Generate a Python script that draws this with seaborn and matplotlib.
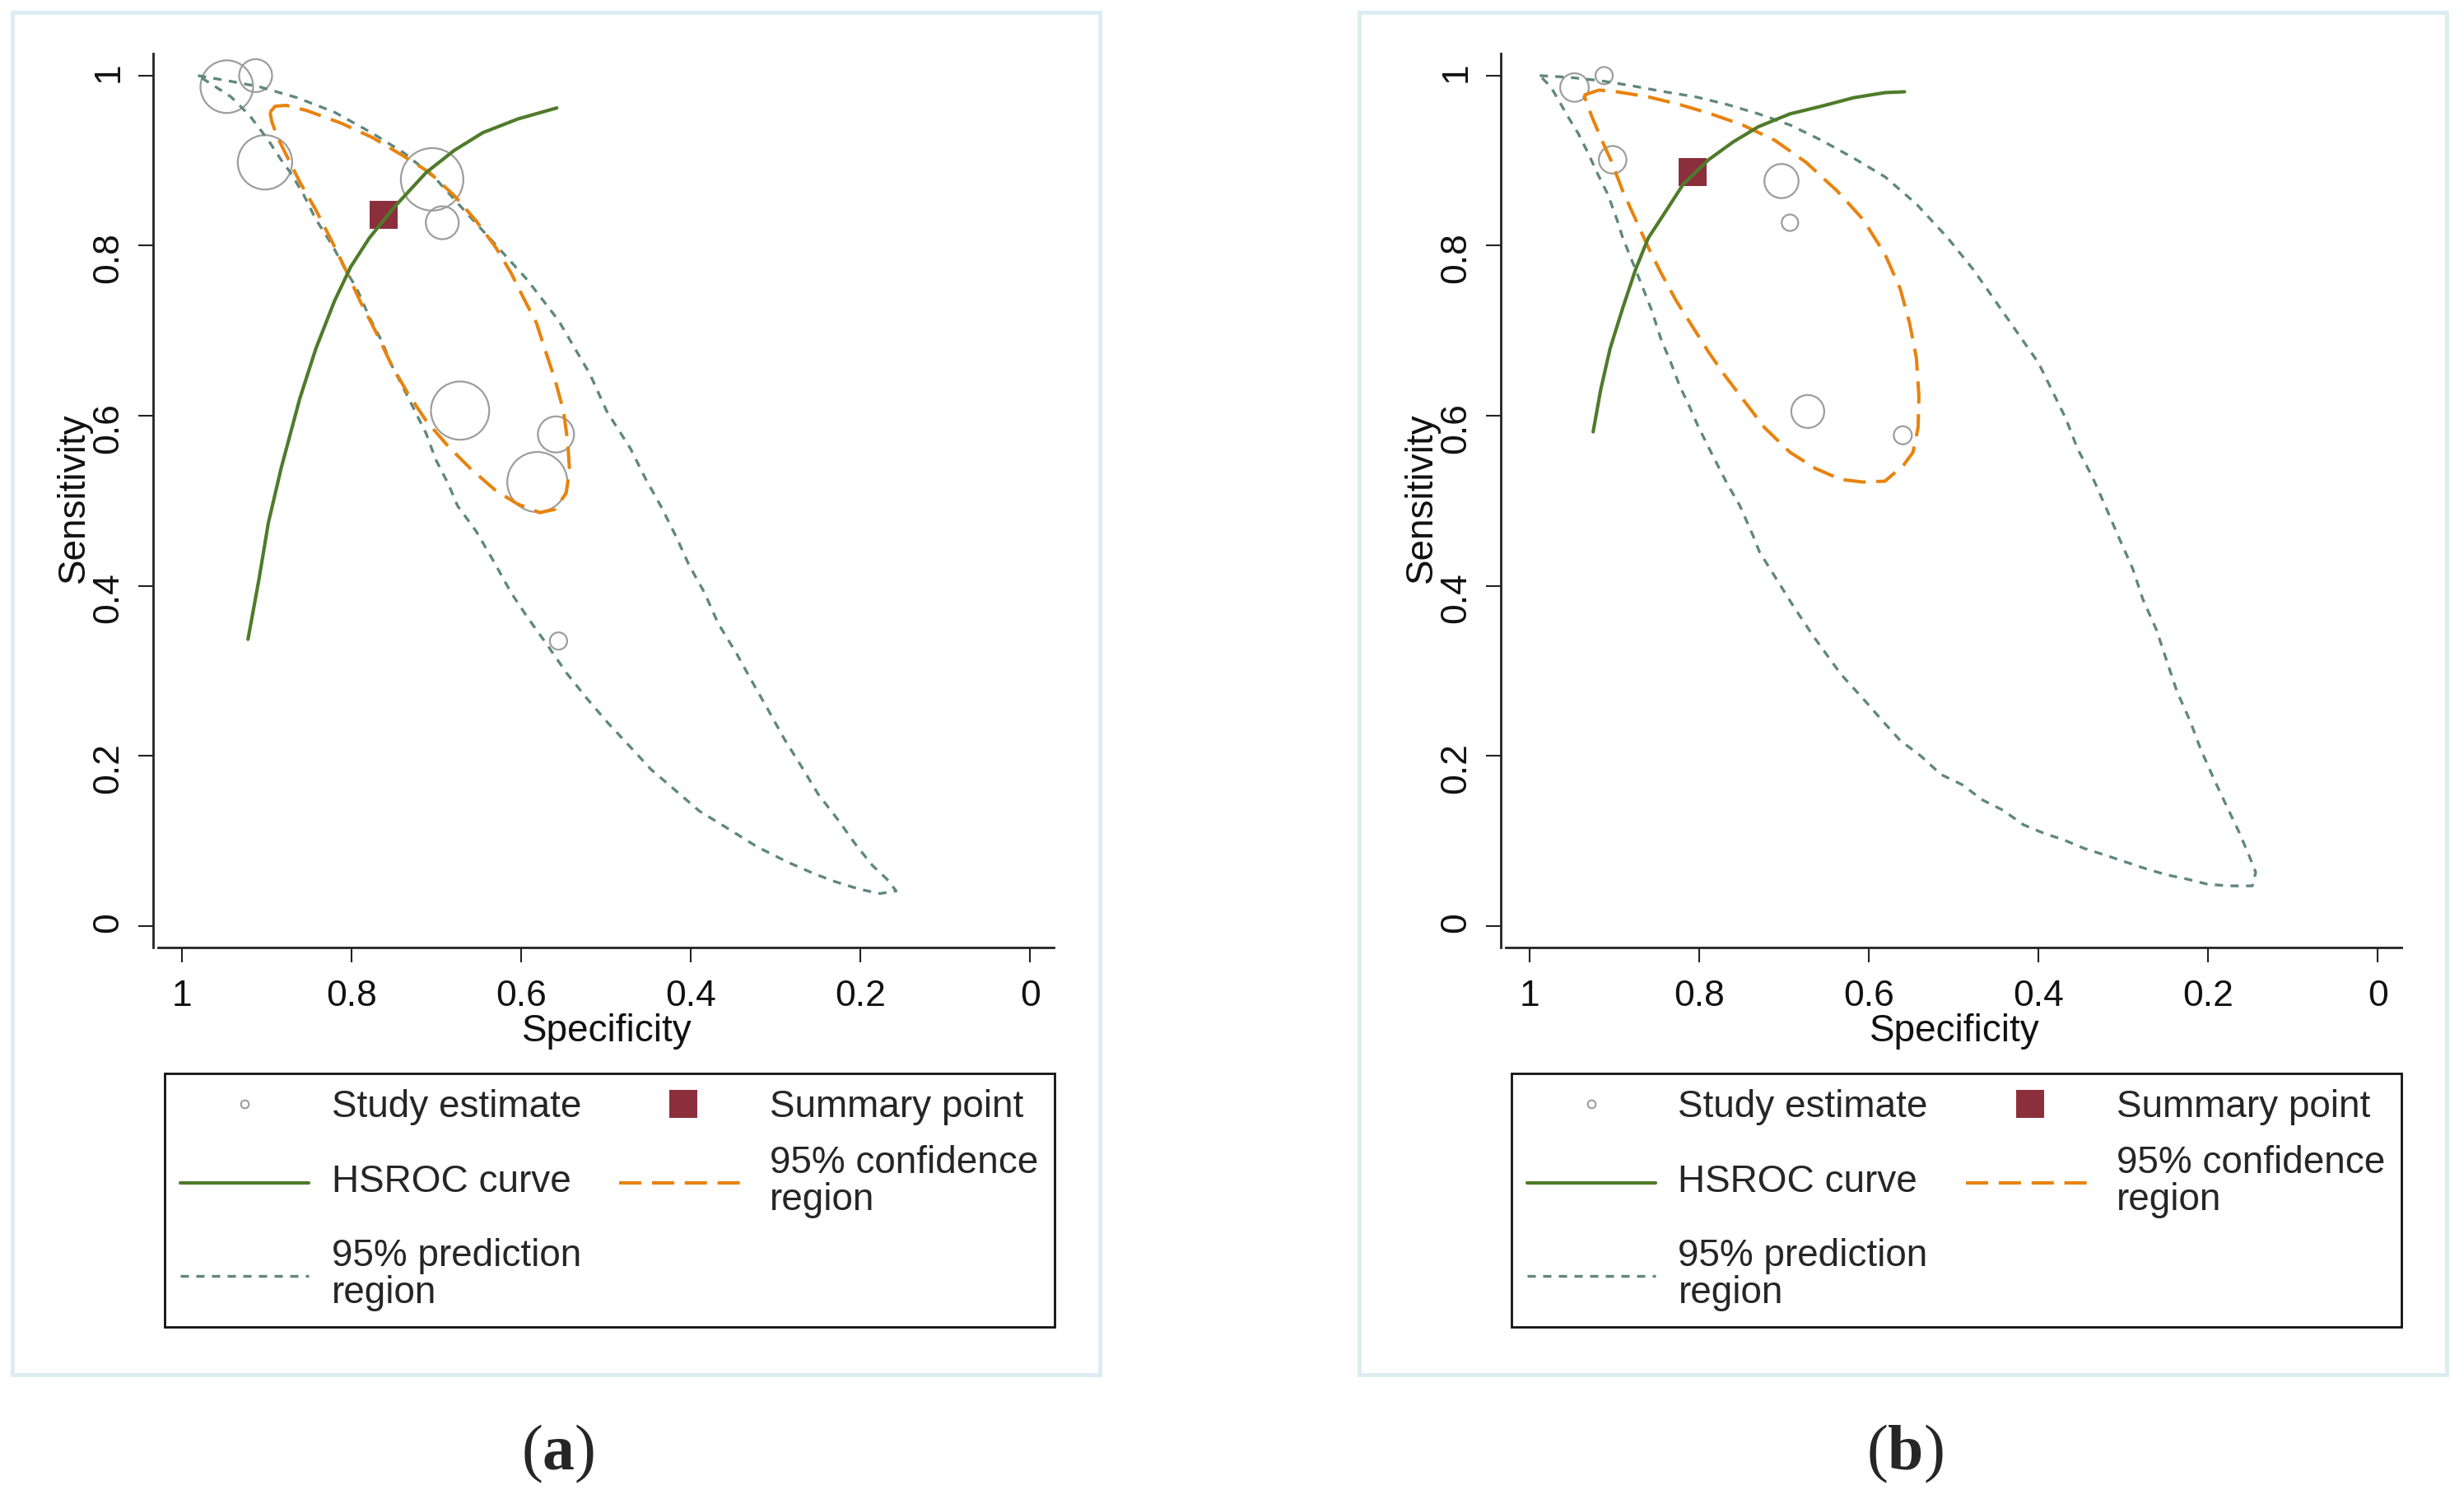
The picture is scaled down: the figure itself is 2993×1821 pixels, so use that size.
import numpy as np
import pandas as pd
import seaborn as sns
import matplotlib.pyplot as plt
from matplotlib.lines import Line2D
from matplotlib.patches import Rectangle

# ---------------- panel (a) ----------------
study_spec_a = [0.947, 0.913, 0.902, 0.705, 0.693, 0.672, 0.559, 0.581, 0.556]
study_sens_a = [0.987, 1.000, 0.898, 0.878, 0.827, 0.606, 0.578, 0.522, 0.335]
study_weight_a = [10.2, 4.0, 10.9, 14.4, 4.0, 12.5, 4.8, 13.3, 1.1]
summary_a = [0.762, 0.836]

hsroc_spec_a = [0.922, 0.909, 0.898, 0.883, 0.861, 0.842, 0.820, 0.801, 0.779, 0.749,
                0.712, 0.679, 0.645, 0.604, 0.558]
hsroc_sens_a = [0.337, 0.408, 0.474, 0.538, 0.620, 0.679, 0.735, 0.775, 0.809, 0.846,
                0.886, 0.912, 0.933, 0.949, 0.962]

conf_spec_a = [0.896, 0.890, 0.877, 0.853, 0.812, 0.775, 0.738, 0.708, 0.679, 0.653,
               0.630, 0.612, 0.597, 0.582, 0.571, 0.560, 0.550, 0.545, 0.543, 0.547,
               0.560, 0.578, 0.604, 0.630, 0.660, 0.686, 0.712, 0.734, 0.753, 0.771,
               0.790, 0.807, 0.823, 0.842, 0.861, 0.876, 0.887, 0.894, 0.896]
conf_sens_a = [0.957, 0.964, 0.965, 0.959, 0.944, 0.927, 0.905, 0.886, 0.859, 0.829,
               0.798, 0.768, 0.738, 0.709, 0.675, 0.642, 0.605, 0.568, 0.535, 0.509,
               0.490, 0.486, 0.496, 0.512, 0.538, 0.564, 0.594, 0.627, 0.660, 0.698,
               0.735, 0.772, 0.805, 0.842, 0.875, 0.905, 0.927, 0.946, 0.957]

pred_spec_a = [0.981, 0.946, 0.909, 0.864, 0.820, 0.775, 0.738, 0.701, 0.664, 0.630,
               0.593, 0.556, 0.519, 0.499, 0.471, 0.453, 0.435, 0.417, 0.402, 0.384,
               0.368, 0.346, 0.326, 0.310, 0.290, 0.270, 0.250, 0.226, 0.206, 0.186,
               0.169, 0.158,
               0.177, 0.201, 0.230, 0.254, 0.286, 0.322, 0.354, 0.390, 0.419, 0.447,
               0.471, 0.499, 0.523, 0.547, 0.569, 0.592, 0.612, 0.632, 0.653, 0.675,
               0.686, 0.701, 0.712, 0.727, 0.738, 0.753, 0.764, 0.779, 0.794, 0.805,
               0.823, 0.842, 0.857, 0.872, 0.883, 0.898, 0.920, 0.942, 0.965, 0.981]
pred_sens_a = [1.000, 0.994, 0.987, 0.974, 0.957, 0.932, 0.909, 0.879, 0.838, 0.801,
               0.760, 0.712, 0.649, 0.605, 0.561, 0.525, 0.493, 0.457, 0.424, 0.392,
               0.356, 0.320, 0.284, 0.256, 0.220, 0.188, 0.155, 0.124, 0.096, 0.071,
               0.055, 0.041,
               0.038, 0.043, 0.052, 0.061, 0.075, 0.093, 0.113, 0.135, 0.160, 0.184,
               0.210, 0.240, 0.268, 0.298, 0.330, 0.362, 0.392, 0.428, 0.464, 0.494,
               0.520, 0.549, 0.579, 0.609, 0.631, 0.660, 0.687, 0.716, 0.750, 0.768,
               0.801, 0.831, 0.861, 0.886, 0.901, 0.924, 0.953, 0.975, 0.990, 1.000]

# ---------------- panel (b) ----------------
study_spec_b = [0.947, 0.912, 0.902, 0.703, 0.693, 0.672, 0.560]
study_sens_b = [0.986, 1.000, 0.901, 0.876, 0.827, 0.605, 0.577]
study_weight_b = [3.0, 1.1, 2.8, 4.3, 1.0, 4.0, 1.2]
summary_b = [0.808, 0.887]

hsroc_spec_b = [0.925, 0.916, 0.905, 0.890, 0.875, 0.860, 0.841, 0.819, 0.789, 0.760,
                0.730, 0.693, 0.656, 0.618, 0.581, 0.558]
hsroc_sens_b = [0.581, 0.631, 0.679, 0.727, 0.772, 0.809, 0.838, 0.872, 0.901, 0.922,
                0.940, 0.955, 0.964, 0.974, 0.980, 0.981]

conf_spec_b = [0.936, 0.918, 0.897, 0.860, 0.823, 0.786, 0.749, 0.711, 0.674, 0.637,
               0.607, 0.581, 0.563, 0.552, 0.544, 0.541, 0.542, 0.548, 0.559, 0.581,
               0.607, 0.633, 0.663, 0.693, 0.723, 0.749, 0.771, 0.789, 0.808, 0.827,
               0.845, 0.860, 0.875, 0.890, 0.903, 0.916, 0.927, 0.934, 0.936]
conf_sens_b = [0.977, 0.983, 0.981, 0.975, 0.966, 0.955, 0.942, 0.924, 0.898, 0.864,
               0.831, 0.790, 0.749, 0.709, 0.668, 0.623, 0.586, 0.557, 0.542, 0.523,
               0.522, 0.525, 0.538, 0.557, 0.586, 0.620, 0.649, 0.675, 0.705, 0.735,
               0.768, 0.798, 0.831, 0.864, 0.898, 0.927, 0.953, 0.972, 0.977]

pred_spec_b = [0.988, 0.953, 0.916, 0.879, 0.841, 0.804, 0.767, 0.730, 0.693, 0.656,
               0.618, 0.581, 0.544, 0.507, 0.477, 0.451, 0.400, 0.368, 0.354, 0.337,
               0.321, 0.305, 0.289, 0.277, 0.261, 0.249, 0.237, 0.221, 0.209, 0.193,
               0.176, 0.164, 0.152, 0.144, 0.148,
               0.156, 0.176, 0.201, 0.225, 0.249, 0.273, 0.297, 0.321, 0.346, 0.370,
               0.394, 0.418, 0.442, 0.466, 0.490, 0.515, 0.539, 0.563, 0.583, 0.604,
               0.633, 0.665, 0.689, 0.709, 0.729, 0.737, 0.752, 0.767, 0.786, 0.801,
               0.812, 0.823, 0.834, 0.845, 0.856, 0.875, 0.890, 0.897, 0.908, 0.919,
               0.931, 0.942, 0.953, 0.964, 0.975, 0.988]
pred_sens_b = [1.000, 0.998, 0.994, 0.988, 0.981, 0.975, 0.966, 0.955, 0.942, 0.924,
               0.903, 0.881, 0.849, 0.809, 0.772, 0.735, 0.662, 0.597, 0.561, 0.529,
               0.493, 0.456, 0.420, 0.384, 0.348, 0.312, 0.276, 0.240, 0.208, 0.172,
               0.136, 0.111, 0.083, 0.063, 0.047,
               0.047, 0.047, 0.049, 0.055, 0.060, 0.067, 0.075, 0.083, 0.091, 0.101,
               0.109, 0.119, 0.136, 0.148, 0.166, 0.178, 0.200, 0.218, 0.240, 0.264,
               0.296, 0.340, 0.376, 0.408, 0.440, 0.460, 0.494, 0.520, 0.557, 0.587,
               0.612, 0.635, 0.664, 0.690, 0.724, 0.772, 0.809, 0.831, 0.861, 0.883,
               0.909, 0.931, 0.949, 0.968, 0.987, 1.000]

tick_vals = [1, 0.8, 0.6, 0.4, 0.2, 0]
tick_labels = ['1', '0.8', '0.6', '0.4', '0.2', '0']
legend_labels = ['Study estimate', '\nHSROC curve\n', '95% prediction\nregion',
                 'Summary point', '95% confidence\nregion']

sns.set_style("ticks")
plt.rcParams['font.family'] = ['Liberation Sans', 'DejaVu Sans']
plt.rcParams['mathtext.fontset'] = 'custom'
plt.rcParams['mathtext.rm'] = 'Liberation Serif'
plt.rcParams['mathtext.bf'] = 'Liberation Serif:bold'

GREEN = '#4f7b2a'
ORANGE = '#e8830e'
TEAL = '#5f877d'
MAROON = '#8b2f3c'
GRAY = '#9d9d9d'
AXCOL = '#222222'

fig = plt.figure(figsize=(29.93, 18.21), dpi=100)


def panel(left, leg_x, box_x, cap_x, cap, sspec, ssens, sw, summ,
          hspec, hsens, cspec, csens, pspec, psens):
    ax = fig.add_axes([left, 0.3679, 0.3636, 0.5964])
    studies = pd.DataFrame({'spec': sspec, 'sens': ssens, 'w': sw})
    sns.scatterplot(data=studies, x='spec', y='sens', size='w', sizes=(0, 3114),
                    size_norm=(0, 15), marker='o', facecolor='none', edgecolor=GRAY,
                    linewidth=1.6, legend=False, ax=ax, zorder=2)
    sns.scatterplot(x=[summ[0]], y=[summ[1]], marker='s', s=590, color=MAROON,
                    linewidth=0, ax=ax, zorder=3)
    sns.lineplot(x=pspec, y=psens, sort=False, estimator=None, errorbar=None,
                 color=TEAL, lw=2.4, linestyle=(0, (3, 2.7)), ax=ax, zorder=4)
    sns.lineplot(x=cspec, y=csens, sort=False, estimator=None, errorbar=None,
                 color=ORANGE, lw=2.9, linestyle=(0, (6.7, 3.2)), ax=ax, zorder=5)
    sns.lineplot(x=hspec, y=hsens, sort=False, estimator=None, errorbar=None,
                 color=GREEN, lw=3, ax=ax, zorder=6)

    ax.set_xlim(1.028, -0.028)
    ax.set_ylim(-0.0255, 1.026)
    ax.set_xticks(tick_vals)
    ax.set_xticklabels(tick_labels)
    ax.set_yticks(tick_vals)
    ax.set_yticklabels(tick_labels)
    sns.despine(ax=ax)
    ax.spines['left'].set_position(('outward', 4.3))
    for s in ['left', 'bottom']:
        ax.spines[s].set_linewidth(2)
        ax.spines[s].set_color(AXCOL)
    ax.tick_params(axis='both', length=13, width=1.5, color=AXCOL,
                   labelsize=32, labelcolor='#111111')
    ax.tick_params(axis='x', pad=15)
    ax.tick_params(axis='y', pad=11, labelrotation=90)
    ax.set_xlabel('Specificity', fontsize=33, color='#111111')
    ax.set_ylabel('Sensitivity', fontsize=33, color='#111111')
    ax.xaxis.set_label_coords(0.501, -0.0737)
    ax.yaxis.set_label_coords(-0.0735, 0.503)

    handles = [
        Line2D([], [], marker='o', ls='none', mfc='none', mec=GRAY, ms=7, mew=1.5),
        Line2D([], [], color=GREEN, lw=3),
        Line2D([], [], color=TEAL, lw=2.4, ls=(0, (3, 2.7))),
        Line2D([], [], marker='s', ls='none', color=MAROON, ms=24, mew=0),
        Line2D([], [], color=ORANGE, lw=2.9, ls=(0, (6.7, 3.2))),
    ]
    leg = ax.legend(handles, legend_labels, loc='upper left',
                    bbox_to_anchor=(leg_x, 0.2839), bbox_transform=fig.transFigure,
                    borderaxespad=0, ncol=2, fontsize=33, handlelength=3.4,
                    handletextpad=0.6, columnspacing=1.0, labelspacing=0.52,
                    borderpad=0.42, fancybox=False, framealpha=1, edgecolor='#111111')
    leg.get_frame().set_linewidth(2)
    for i, t in enumerate(leg.get_texts()):
        t.set_linespacing(0.371 if i == 1 else 1.03)

    fig.patches.append(Rectangle((box_x, 0.0829), 0.4414, 0.9088, transform=fig.transFigure,
                                 fill=False, ec='#dcecf2', lw=3.5, figure=fig))
    fig.text(cap_x, 0.0302, '(' + r'$\mathbf{' + cap + '}$' + ')', ha='center', va='center',
             fontsize=56, family='Liberation Serif')
    return ax


panel(0.06415, 0.0668, 0.005, 0.2265, 'a', study_spec_a, study_sens_a, study_weight_a,
      summary_a, hsroc_spec_a, hsroc_sens_a, conf_spec_a, conf_sens_a,
      pred_spec_a, pred_sens_a)
panel(0.6111, 0.6134, 0.5516, 0.7731, 'b', study_spec_b, study_sens_b, study_weight_b,
      summary_b, hsroc_spec_b, hsroc_sens_b, conf_spec_b, conf_sens_b,
      pred_spec_b, pred_sens_b)

fig.savefig('out.png', dpi=100, facecolor='white')
